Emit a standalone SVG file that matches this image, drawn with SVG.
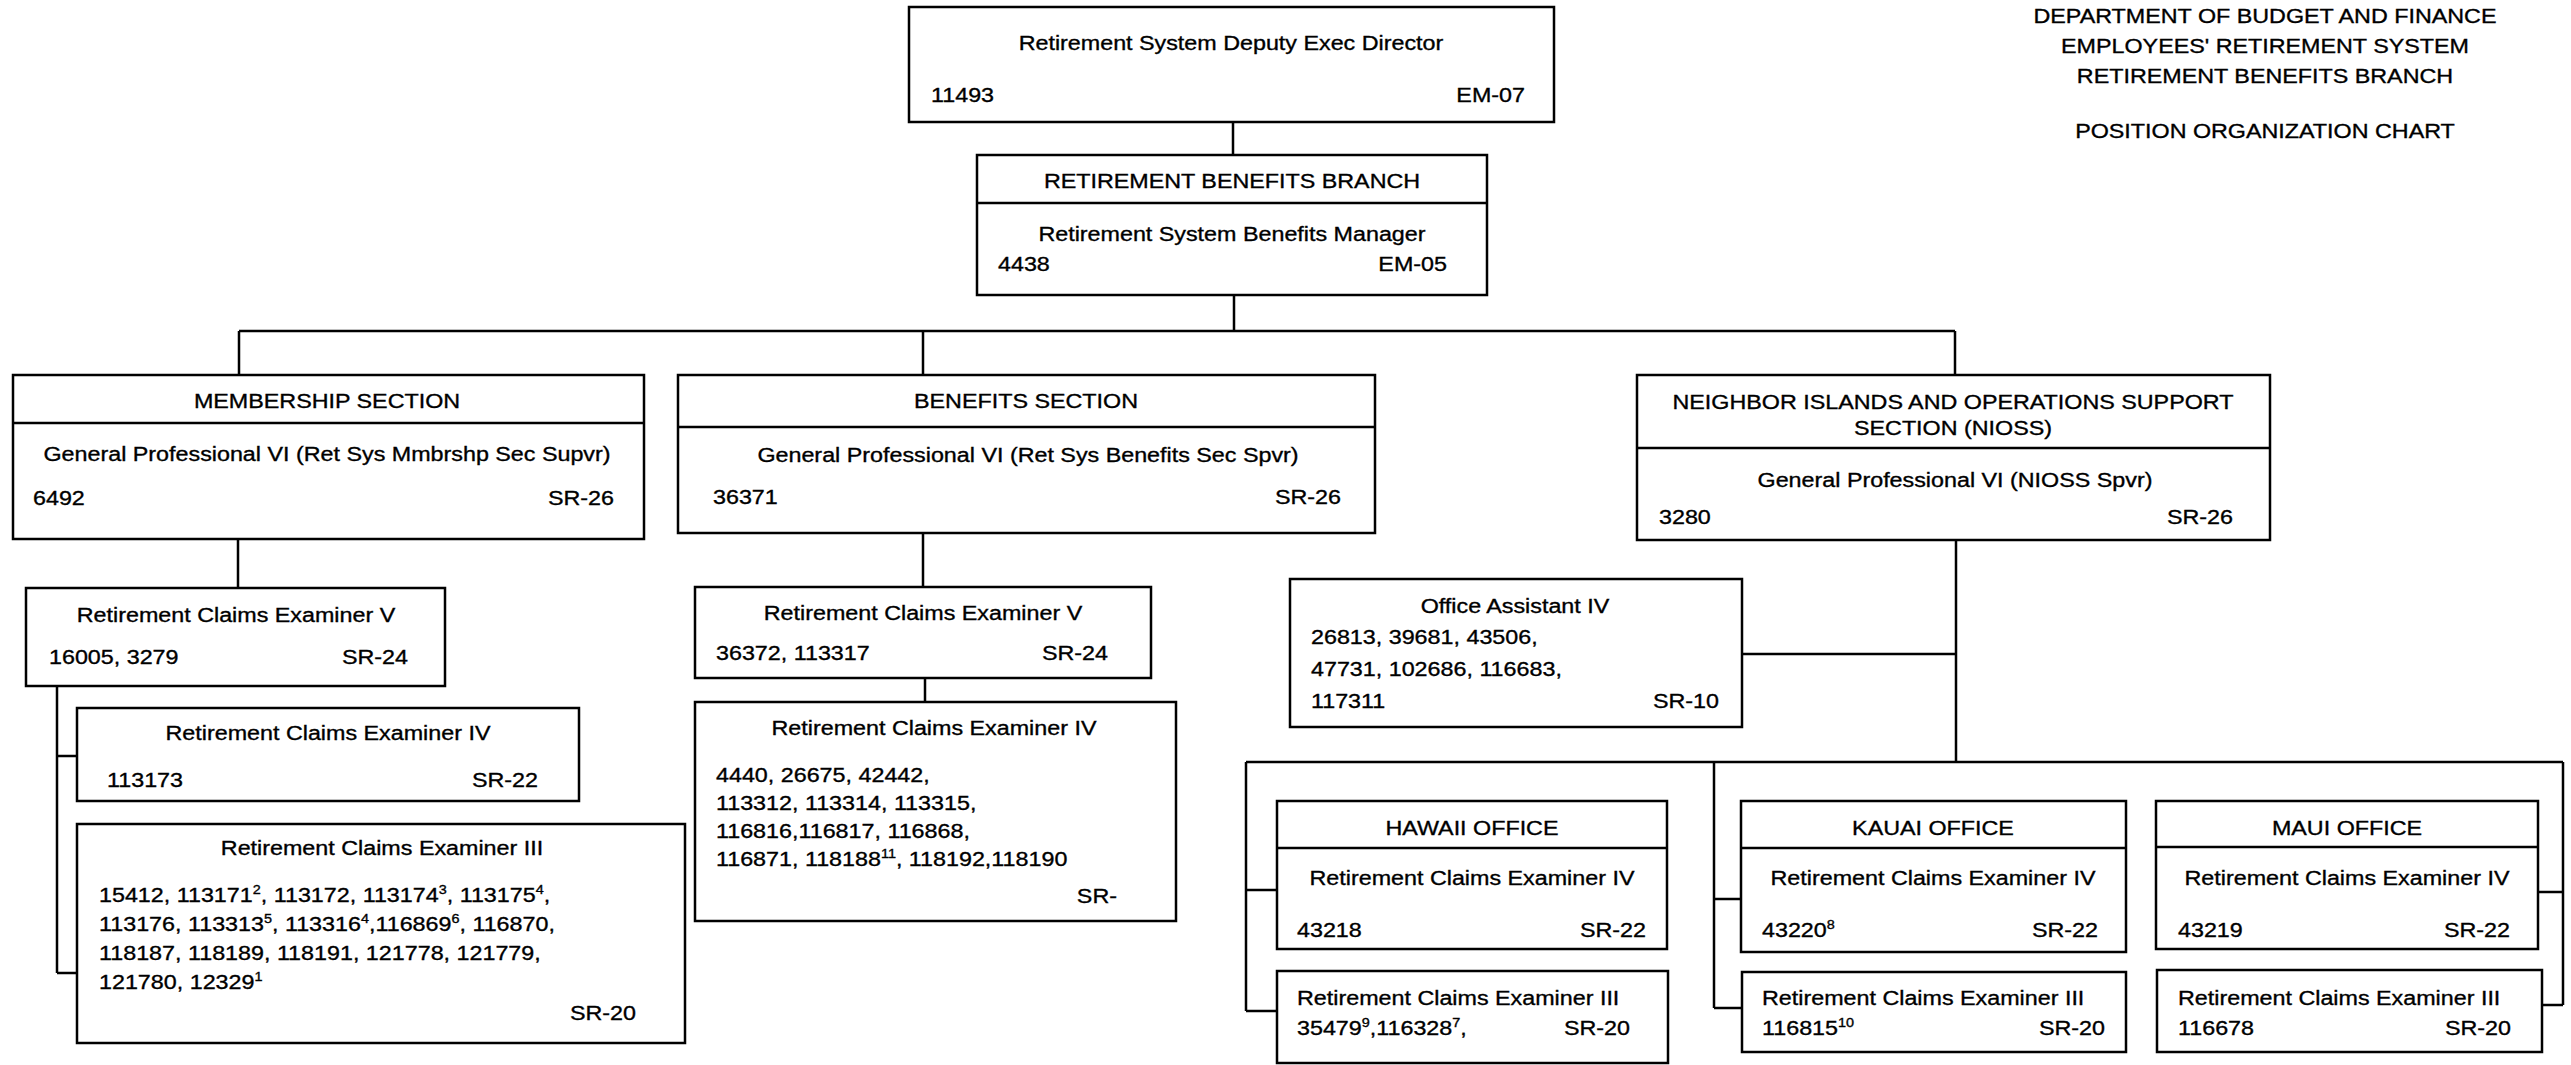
<svg xmlns="http://www.w3.org/2000/svg" width="2571" height="1065" viewBox="0 0 2571 1065">
<style>
.box{fill:#fff;stroke:#000;stroke-width:2.5}
.ln{fill:none;stroke:#000;stroke-width:2.5}
text{font-family:"Liberation Sans",Arial,sans-serif;font-size:21px;fill:#000;stroke:#000;stroke-width:0.35;transform-box:fill-box;transform:scaleX(1.11);transform-origin:left center}
.c{text-anchor:middle;transform-origin:center center}
.r{text-anchor:end;transform-origin:right center}
.s{font-size:13px}
</style>
<rect width="2571" height="1065" fill="#fff"/>
<g id="title">
<text class="c" x="2265" y="23">DEPARTMENT OF BUDGET AND FINANCE</text>
<text class="c" x="2265" y="53">EMPLOYEES' RETIREMENT SYSTEM</text>
<text class="c" x="2265" y="83">RETIREMENT BENEFITS BRANCH</text>
<text class="c" x="2265" y="138">POSITION ORGANIZATION CHART</text>
</g>
<g id="connectors">
<path class="ln" d="M1233,122V155 M1234,295V331 M239,331H1955 M239,331V375 M923,331V375 M1955,331V375"/>
<path class="ln" d="M238,539V588 M57,686V973 M57,756H77 M57,973H77"/>
<path class="ln" d="M923,533V587 M925,678V702"/>
<path class="ln" d="M1956,540V762 M1742,654H1956 M1246,762H2563 M1246,762V1011 M1246,890H1277 M1246,1011H1277 M1714,762V1008 M1714,899H1741 M1714,1008H1742 M2563,762V1005 M2538,892H2563 M2542,1005H2563"/>
</g>
<g id="deputy">
<rect class="box" x="909" y="7" width="645" height="115"/>
<text class="c" x="1231" y="50">Retirement System Deputy Exec Director</text>
<text x="931" y="102">11493</text>
<text class="r" x="1525" y="102">EM-07</text>
</g>
<g id="branch">
<rect class="box" x="977" y="155" width="510" height="140"/>
<path class="ln" d="M977,203H1487"/>
<text class="c" x="1232" y="188">RETIREMENT BENEFITS BRANCH</text>
<text class="c" x="1232" y="241">Retirement System Benefits Manager</text>
<text x="998" y="271">4438</text>
<text class="r" x="1447" y="271">EM-05</text>
</g>
<g id="membership">
<rect class="box" x="13" y="375" width="631" height="164"/>
<path class="ln" d="M13,423H644"/>
<text class="c" x="327" y="408">MEMBERSHIP SECTION</text>
<text class="c" x="327" y="461">General Professional VI (Ret Sys Mmbrshp Sec Supvr)</text>
<text x="33" y="505">6492</text>
<text class="r" x="614" y="505">SR-26</text>
</g>
<g id="benefits">
<rect class="box" x="678" y="375" width="697" height="158"/>
<path class="ln" d="M678,427H1375"/>
<text class="c" x="1026" y="408">BENEFITS SECTION</text>
<text class="c" x="1028" y="462">General Professional VI (Ret Sys Benefits Sec Spvr)</text>
<text x="713" y="504">36371</text>
<text class="r" x="1341" y="504">SR-26</text>
</g>
<g id="nioss">
<rect class="box" x="1637" y="375" width="633" height="165"/>
<path class="ln" d="M1637,448H2270"/>
<text class="c" x="1953" y="409">NEIGHBOR ISLANDS AND OPERATIONS SUPPORT</text>
<text class="c" x="1953" y="435">SECTION (NIOSS)</text>
<text class="c" x="1955" y="487">General Professional VI (NIOSS Spvr)</text>
<text x="1659" y="524">3280</text>
<text class="r" x="2233" y="524">SR-26</text>
</g>
<g id="mem-rce5">
<rect class="box" x="26" y="588" width="419" height="98"/>
<text class="c" x="236" y="622">Retirement Claims Examiner V</text>
<text x="49" y="664">16005, 3279</text>
<text class="r" x="408" y="664">SR-24</text>
</g>
<g id="mem-rce4">
<rect class="box" x="77" y="708" width="502" height="93"/>
<text class="c" x="328" y="740">Retirement Claims Examiner IV</text>
<text x="107" y="787">113173</text>
<text class="r" x="538" y="787">SR-22</text>
</g>
<g id="mem-rce3">
<rect class="box" x="77" y="824" width="608" height="219"/>
<text class="c" x="382" y="855">Retirement Claims Examiner III</text>
<text x="99" y="902">15412, 113171<tspan class="s" dy="-8">2</tspan><tspan dy="8">, 113172, 113174</tspan><tspan class="s" dy="-8">3</tspan><tspan dy="8">, 113175</tspan><tspan class="s" dy="-8">4</tspan><tspan dy="8">,</tspan></text>
<text x="99" y="931">113176, 113313<tspan class="s" dy="-8">5</tspan><tspan dy="8">, 113316</tspan><tspan class="s" dy="-8">4</tspan><tspan dy="8">,116869</tspan><tspan class="s" dy="-8">6</tspan><tspan dy="8">, 116870,</tspan></text>
<text x="99" y="960">118187, 118189, 118191, 121778, 121779,</text>
<text x="99" y="989">121780, 12329<tspan class="s" dy="-8">1</tspan></text>
<text class="r" x="636" y="1020">SR-20</text>
</g>
<g id="ben-rce5">
<rect class="box" x="695" y="587" width="456" height="91"/>
<text class="c" x="923" y="620">Retirement Claims Examiner V</text>
<text x="716" y="660">36372, 113317</text>
<text class="r" x="1108" y="660">SR-24</text>
</g>
<g id="ben-rce4">
<rect class="box" x="695" y="702" width="481" height="219"/>
<text class="c" x="934" y="735">Retirement Claims Examiner IV</text>
<text x="716" y="782">4440, 26675, 42442,</text>
<text x="716" y="810">113312, 113314, 113315,</text>
<text x="716" y="838">116816,116817, 116868,</text>
<text x="716" y="866">116871, 118188<tspan class="s" dy="-8">11</tspan><tspan dy="8">, 118192,118190</tspan></text>
<text class="r" x="1117" y="903">SR-</text>
</g>
<g id="office-assistant">
<rect class="box" x="1290" y="579" width="452" height="148"/>
<text class="c" x="1515" y="613">Office Assistant IV</text>
<text x="1311" y="644">26813, 39681, 43506,</text>
<text x="1311" y="676">47731, 102686, 116683,</text>
<text x="1311" y="708">117311</text>
<text class="r" x="1719" y="708">SR-10</text>
</g>
<g id="hawaii">
<rect class="box" x="1277" y="801" width="390" height="148"/>
<path class="ln" d="M1277,848H1667"/>
<text class="c" x="1472" y="835">HAWAII OFFICE</text>
<text class="c" x="1472" y="885">Retirement Claims Examiner IV</text>
<text x="1297" y="937">43218</text>
<text class="r" x="1646" y="937">SR-22</text>
</g>
<g id="hawaii-rce3">
<rect class="box" x="1277" y="971" width="391" height="92"/>
<text x="1297" y="1005">Retirement Claims Examiner III</text>
<text x="1297" y="1035">35479<tspan class="s" dy="-8">9</tspan><tspan dy="8">,116328</tspan><tspan class="s" dy="-8">7</tspan><tspan dy="8">,</tspan></text>
<text class="r" x="1630" y="1035">SR-20</text>
</g>
<g id="kauai">
<rect class="box" x="1741" y="801" width="385" height="151"/>
<path class="ln" d="M1741,848H2126"/>
<text class="c" x="1933" y="835">KAUAI OFFICE</text>
<text class="c" x="1933" y="885">Retirement Claims Examiner IV</text>
<text x="1762" y="937">43220<tspan class="s" dy="-8">8</tspan></text>
<text class="r" x="2098" y="937">SR-22</text>
</g>
<g id="kauai-rce3">
<rect class="box" x="1742" y="972" width="384" height="80"/>
<text x="1762" y="1005">Retirement Claims Examiner III</text>
<text x="1762" y="1035">116815<tspan class="s" dy="-8">10</tspan></text>
<text class="r" x="2105" y="1035">SR-20</text>
</g>
<g id="maui">
<rect class="box" x="2156" y="801" width="382" height="148"/>
<path class="ln" d="M2156,847H2538"/>
<text class="c" x="2347" y="835">MAUI OFFICE</text>
<text class="c" x="2347" y="885">Retirement Claims Examiner IV</text>
<text x="2178" y="937">43219</text>
<text class="r" x="2510" y="937">SR-22</text>
</g>
<g id="maui-rce3">
<rect class="box" x="2157" y="970" width="385" height="82"/>
<text x="2178" y="1005">Retirement Claims Examiner III</text>
<text x="2178" y="1035">116678</text>
<text class="r" x="2511" y="1035">SR-20</text>
</g>
</svg>
